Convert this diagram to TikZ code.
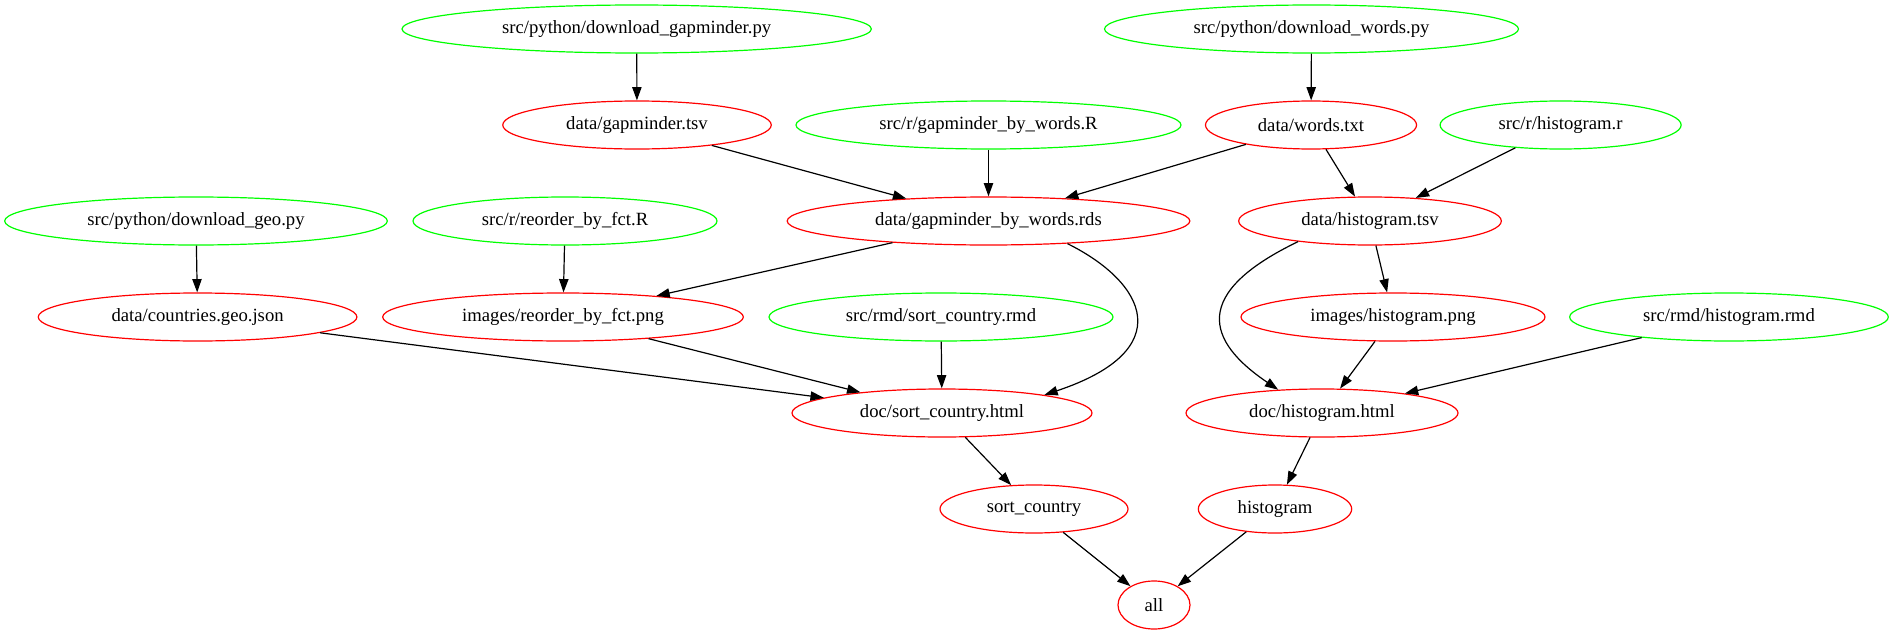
\documentclass[tikz,border=0pt]{standalone}
\usepackage{fontspec}
\setmainfont{Liberation Serif}
\usetikzlibrary{arrows.meta,shapes.geometric}
\definecolor{gvgreen}{RGB}{0,255,0}
\definecolor{gvred}{RGB}{255,0,0}
\tikzset{
  gvbase/.style={ellipse, draw, line width=0.9pt, inner sep=0pt, minimum height=36pt,
    font=\fontsize{14pt}{16pt}\selectfont},
  srcnode/.style={gvbase, draw=gvgreen},
  tgtnode/.style={gvbase, draw=gvred},
  gvedge/.style={draw=black, line width=0.9pt, -{Triangle[length=10pt,width=7pt]}},
}
\newcommand{\gvlbl}[1]{\makebox[0pt]{#1}}
\begin{document}
\begin{tikzpicture}[x=0.75pt,y=-0.75pt]
\useasboundingbox (0,0) rectangle (1894,635);
% row 1
\node[srcnode, minimum width=352pt] (dgap) at (636.7,29) {\gvlbl{src/python/download\_gapminder.py}};
\node[srcnode, minimum width=310.5pt] (dwords) at (1311.5,29) {\gvlbl{src/python/download\_words.py}};
% row 2
\node[tgtnode, minimum width=201.4pt] (gtsv) at (637,125) {\gvlbl{data/gapminder.tsv}};
\node[srcnode, minimum width=288.8pt] (gbwR) at (988.5,125) {\gvlbl{src/r/gapminder\_by\_words.R}};
\node[tgtnode, minimum width=158.3pt] (words) at (1311,125) {\gvlbl{data/words.txt}};
\node[srcnode, minimum width=180.8pt] (histr) at (1560.6,125) {\gvlbl{src/r/histogram.r}};
% row 3
\node[srcnode, minimum width=287pt] (dgeo) at (196,221) {\gvlbl{src/python/download\_geo.py}};
\node[srcnode, minimum width=228pt] (reoR) at (565,221) {\gvlbl{src/r/reorder\_by\_fct.R}};
\node[tgtnode, minimum width=302pt] (rds) at (988.5,221) {\gvlbl{data/gapminder\_by\_words.rds}};
\node[tgtnode, minimum width=197pt] (htsv) at (1370,221) {\gvlbl{data/histogram.tsv}};
% row 4
\node[tgtnode, minimum width=239pt] (geo) at (197.6,317) {\gvlbl{data/countries.geo.json}};
\node[tgtnode, minimum width=270.5pt] (reopng) at (563,317) {\gvlbl{images/reorder\_by\_fct.png}};
\node[srcnode, minimum width=258pt] (srmd) at (941,317) {\gvlbl{src/rmd/sort\_country.rmd}};
\node[tgtnode, minimum width=228pt] (hpng) at (1393,317) {\gvlbl{images/histogram.png}};
\node[srcnode, minimum width=239pt] (hrmd) at (1729,317) {\gvlbl{src/rmd/histogram.rmd}};
% row 5
\node[tgtnode, minimum width=225pt] (shtml) at (942,413) {\gvlbl{doc/sort\_country.html}};
\node[tgtnode, minimum width=204pt] (hhtml) at (1322,413) {\gvlbl{doc/histogram.html}};
% row 6
\node[tgtnode, minimum width=141pt] (sc) at (1034,509) {\gvlbl{sort\_country}};
\node[tgtnode, minimum width=115pt] (hist) at (1275,509) {\gvlbl{histogram}};
% row 7
\node[tgtnode, minimum width=54pt] (all) at (1154,605) {\gvlbl{all}};
% edges
\draw[gvedge] (dgap) -- (gtsv);
\draw[gvedge] (dwords) -- (words);
\draw[gvedge] (gtsv) -- (rds);
\draw[gvedge] (gbwR) -- (rds);
\draw[gvedge] (words) -- (rds);
\draw[gvedge] (words) -- (htsv);
\draw[gvedge] (histr) -- (htsv);
\draw[gvedge] (dgeo) -- (geo);
\draw[gvedge] (reoR) -- (reopng);
\draw[gvedge] (rds) -- (reopng);
\draw[gvedge] (htsv) -- (hpng);
\draw[gvedge] (rds.-16) .. controls (1146,282.6) and (1179.4,350) .. (shtml.10);
\draw[gvedge] (htsv.196) .. controls (1191.2,293.1) and (1205.8,340.8) .. (hhtml.152);
\draw[gvedge] (geo) -- (shtml);
\draw[gvedge] (reopng) -- (shtml);
\draw[gvedge] (srmd) -- (shtml);
\draw[gvedge] (hpng) -- (hhtml);
\draw[gvedge] (hrmd) -- (hhtml);
\draw[gvedge] (shtml) -- (sc);
\draw[gvedge] (hhtml) -- (hist);
\draw[gvedge] (sc) -- (all);
\draw[gvedge] (hist) -- (all);
\end{tikzpicture}
\end{document}
